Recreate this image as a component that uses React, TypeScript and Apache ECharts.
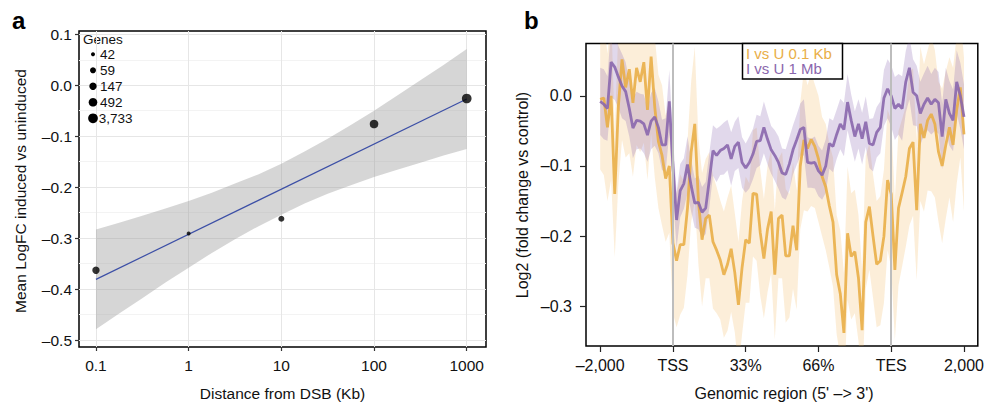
import React, { useEffect, useRef } from 'react';
import * as echarts from 'echarts';

// ---------- Panel a data ----------
const distanceKb = [0.1, 1, 10, 100, 1000];
const meanLogFC = [-0.363, -0.291, -0.262, -0.076, -0.026];
const geneCounts = [147, 42, 59, 492, 3733];
const legendGenes = [42, 59, 147, 492, 3733];
const legendGeneLabels = ['42', '59', '147', '492', '3,733'];
const fitX = [0.1, 1000];
const fitY = [-0.381, -0.027];
const bandX = [0.1, 0.178, 0.316, 0.562, 1, 1.78, 3.16, 5.62, 10, 17.8, 31.6, 56.2, 100, 178, 316, 562, 1000];
const bandUpper = [-0.283, -0.27, -0.256, -0.242, -0.227, -0.211, -0.193, -0.175, -0.154, -0.13, -0.105, -0.078, -0.05, -0.02, 0.01, 0.04, 0.071];
const bandLower = [-0.479, -0.448, -0.418, -0.387, -0.358, -0.329, -0.302, -0.277, -0.254, -0.232, -0.213, -0.196, -0.18, -0.166, -0.152, -0.138, -0.125];
const xTicksA = [0.1, 1, 10, 100, 1000];
const yTicksA = [-0.5, -0.4, -0.3, -0.2, -0.1, 0, 0.1];
const yMinorA = [-0.45, -0.35, -0.25, -0.15, -0.05, 0.05];

// ---------- Panel b data ----------
const regionTickPos = [0, 20, 40, 60, 80, 100];
const regionTickLabels = ['\u20132,000', 'TSS', '33%', '66%', 'TES', '2,000'];
const yTicksB = [-0.3, -0.2, -0.1, 0];
const guideBins = [20, 80];
const lfc01Kb = [
  -0.005, -0.003, -0.045, 0.0, -0.14, -0.015, 0.052, 0.012, 0.038, -0.01,
  0.04, 0.02, 0.048, -0.02, 0.056, -0.016, -0.065, -0.085, -0.118, -0.1,
  -0.21, -0.235, -0.212, -0.212, -0.16, -0.08, -0.04, -0.15, -0.205, -0.175,
  -0.17, -0.208, -0.22, -0.234, -0.255, -0.24, -0.218, -0.252, -0.298, -0.245,
  -0.205, -0.21, -0.139, -0.14, -0.195, -0.232, -0.19, -0.165, -0.255, -0.175,
  -0.17, -0.228, -0.228, -0.185, -0.22, -0.1, -0.063, -0.075, -0.062, -0.072,
  -0.09, -0.115, -0.13, -0.157, -0.18, -0.255, -0.282, -0.338, -0.196, -0.229,
  -0.222, -0.26, -0.334, -0.18, -0.158, -0.2, -0.24, -0.235, -0.2, -0.12,
  -0.14, -0.248, -0.16, -0.138, -0.115, -0.075, -0.066, -0.163, -0.04, -0.06,
  -0.035, -0.026, -0.04, -0.08, -0.1, -0.07, -0.045, -0.07, -0.02, 0.012,
  -0.055,
];
const lfc1Mb = [
  -0.008, -0.012, -0.018, 0.048, 0.041, 0.027, 0.014, 0.006, -0.018, -0.046,
  -0.035, -0.036, -0.04, -0.056, -0.036, -0.03, -0.045, -0.07, -0.07, -0.008,
  -0.1, -0.177, -0.135, -0.125, -0.098, -0.128, -0.153, -0.152, -0.166, -0.16,
  -0.12, -0.078, -0.085, -0.078, -0.075, -0.07, -0.09, -0.072, -0.066, -0.095,
  -0.103, -0.095, -0.083, -0.065, -0.064, -0.045, -0.062, -0.077, -0.085, -0.095,
  -0.11, -0.112, -0.097, -0.077, -0.063, -0.048, -0.045, -0.095, -0.096, -0.095,
  -0.107, -0.113, -0.1, -0.068, -0.072, -0.055, -0.04, -0.048, -0.009, -0.035,
  -0.058, -0.04, -0.061, -0.037, -0.068, -0.07, -0.052, -0.045, -0.003, 0.01,
  0.0, -0.018, -0.012, -0.018, 0.02, 0.04, 0.005, 0.0, -0.025, -0.012,
  -0.003, -0.012, -0.005, -0.01, -0.058, -0.005, -0.025, -0.035, 0.02, 0.0,
  -0.03,
];
const se01Kb = [
  0.1, 0.11, 0.105, 0.12, 0.09, 0.11, 0.115, 0.1, 0.12, 0.105, 0.11, 0.1, 0.115, 0.1, 0.11, 0.1, 0.095, 0.1, 0.09, 0.095, 0.1,
  0.095, 0.1, 0.09, 0.095, 0.1, 0.11, 0.09, 0.095, 0.085, 0.09, 0.095, 0.09, 0.085, 0.09, 0.095, 0.09, 0.085, 0.09, 0.095, 0.09,
  0.085, 0.09, 0.095, 0.09, 0.085, 0.09, 0.088, 0.092, 0.085, 0.09, 0.095, 0.088, 0.09, 0.085, 0.09, 0.1, 0.09, 0.095, 0.088, 0.09,
  0.085, 0.09, 0.088, 0.092, 0.085, 0.09, 0.085, 0.095, 0.09, 0.088, 0.09, 0.085, 0.095, 0.09, 0.088, 0.09, 0.092, 0.095, 0.1, 0.105,
  0.1, 0.11, 0.105, 0.1, 0.11, 0.105, 0.1, 0.11, 0.105, 0.1, 0.11, 0.105, 0.1, 0.11, 0.105, 0.1, 0.11, 0.105, 0.1, 0.11,
];
const se1Mb = [
  0.048, 0.05, 0.046, 0.05, 0.047, 0.044, 0.046, 0.042, 0.04, 0.043, 0.041, 0.039, 0.042, 0.038, 0.04, 0.041, 0.037, 0.036, 0.038, 0.045, 0.042,
  0.04, 0.038, 0.036, 0.04, 0.037, 0.035, 0.038, 0.036, 0.037, 0.039, 0.036, 0.038, 0.035, 0.037, 0.036, 0.038, 0.035, 0.037, 0.036, 0.035,
  0.037, 0.036, 0.038, 0.035, 0.037, 0.036, 0.034, 0.036, 0.037, 0.035, 0.036, 0.038, 0.035, 0.036, 0.037, 0.04, 0.036, 0.035, 0.037, 0.036,
  0.035, 0.038, 0.036, 0.037, 0.035, 0.036, 0.038, 0.04, 0.037, 0.036, 0.035, 0.037, 0.036, 0.035, 0.038, 0.036, 0.037, 0.04, 0.042, 0.044,
  0.045, 0.043, 0.046, 0.044, 0.045, 0.047, 0.043, 0.045, 0.044, 0.046, 0.043, 0.045, 0.044, 0.047, 0.045, 0.046, 0.044, 0.045, 0.047, 0.046,
];

// ---------- styling ----------
const FONT = "'Liberation Sans', Arial, Helvetica, sans-serif";
const ORANGE = '#E9AE47';
const PURPLE = '#8A67AD';
const SIZE_BY_COUNT: Record<number, number> = { 42: 4, 59: 6, 147: 7.4, 492: 8.6, 3733: 9.7 };

const fmtSigned = (v: number) => {
  if (Math.abs(v) < 1e-9) return '0.0';
  return (v < 0 ? '\u2013' : '') + Math.abs(v).toFixed(1);
};
const fmtKb = (v: number) => {
  const r = Math.round(v * 1000) / 1000;
  return String(r);
};

function bandSeries(xs: number[], lo: number[], hi: number[], fill: string, xAxisIndex: number, yAxisIndex: number, z: number) {
  const data = xs.map((x, i) => [x, lo[i], hi[i]]);
  return {
    type: 'custom',
    xAxisIndex,
    yAxisIndex,
    clip: true,
    silent: true,
    z,
    data,
    encode: { x: 0, y: [1, 2] },
    renderItem: (params: any, api: any) => {
      if (params.dataIndex !== 0) return null;
      const top = data.map((d) => api.coord([d[0], d[2]]));
      const bot = data.map((d) => api.coord([d[0], d[1]])).reverse();
      return {
        type: 'polygon',
        shape: { points: top.concat(bot) },
        style: { fill, stroke: null },
      };
    },
  };
}

export default function App() {
  const ref = useRef<HTMLDivElement>(null);
  useEffect(() => {
    if (!ref.current) return;
    const chart = echarts.init(ref.current, null, { renderer: 'svg' });
    const bins = lfc01Kb.map((_, i) => i);
    const lo01 = lfc01Kb.map((v, i) => v - se01Kb[i]);
    const hi01 = lfc01Kb.map((v, i) => v + se01Kb[i]);
    const lo1M = lfc1Mb.map((v, i) => v - se1Mb[i]);
    const hi1M = lfc1Mb.map((v, i) => v + se1Mb[i]);

    const tickLabelStyle = { color: '#111', fontFamily: FONT };

    const graphic: any[] = [
      { type: 'text', x: 12, y: 20, style: { text: 'a', font: `bold 24px ${FONT}`, fill: '#000', textAlign: 'left', textVerticalAlign: 'middle' } },
      { type: 'text', x: 524, y: 20, style: { text: 'b', font: `bold 24px ${FONT}`, fill: '#000', textAlign: 'left', textVerticalAlign: 'middle' } },
      { type: 'text', x: 282.5, y: 393.5, style: { text: 'Distance from DSB (Kb)', font: `15.5px ${FONT}`, fill: '#111', textAlign: 'center', textVerticalAlign: 'middle' } },
      { type: 'text', x: 20.5, y: 191, rotation: Math.PI / 2, style: { text: 'Mean LogFC induced vs uninduced', font: `15.5px ${FONT}`, fill: '#111', textAlign: 'center', textVerticalAlign: 'middle' } },
      { type: 'text', x: 784, y: 393, style: { text: "Genomic region (5' \u2013> 3')", font: `16px ${FONT}`, fill: '#111', textAlign: 'center', textVerticalAlign: 'middle' } },
      { type: 'text', x: 522, y: 195, rotation: Math.PI / 2, style: { text: 'Log2 (fold change vs control)', font: `16px ${FONT}`, fill: '#111', textAlign: 'center', textVerticalAlign: 'middle' } },
      // legend a
      { type: 'text', x: 83, y: 39.5, style: { text: 'Genes', font: `13.5px ${FONT}`, fill: '#111', textAlign: 'left', textVerticalAlign: 'middle' } },
      // legend b
      { type: 'rect', shape: { x: 742.5, y: 43.5, width: 100, height: 35.5 }, style: { fill: '#fff', stroke: '#000', lineWidth: 1.5 }, z: 10 },
      { type: 'text', x: 746, y: 53, z: 11, style: { text: 'I vs U 0.1 Kb', font: `15px ${FONT}`, fill: ORANGE, textAlign: 'left', textVerticalAlign: 'middle' } },
      { type: 'text', x: 746, y: 68.5, z: 11, style: { text: 'I vs U 1 Mb', font: `15px ${FONT}`, fill: PURPLE, textAlign: 'left', textVerticalAlign: 'middle' } },
    ];
    legendGenes.forEach((g, i) => {
      const cy = 54.3 + i * 16;
      graphic.push({ type: 'circle', shape: { cx: 93, cy, r: SIZE_BY_COUNT[g] / 2 }, style: { fill: '#000' }, z: 5 });
      graphic.push({ type: 'text', x: i === 4 ? 98.7 : 100, y: cy, z: 5, style: { text: legendGeneLabels[i], font: `13.5px ${FONT}`, fill: '#111', textAlign: 'left', textVerticalAlign: 'middle' } });
    });

    const option: any = {
      animation: false,
      backgroundColor: '#fff',
      textStyle: { fontFamily: FONT },
      graphic,
      grid: [
        { left: 79, top: 31, width: 407, height: 316, show: true, borderColor: '#000', borderWidth: 1.5, backgroundColor: 'transparent' },
        { left: 586, top: 43.5, width: 396, height: 302.5, show: true, borderColor: '#000', borderWidth: 1.5, backgroundColor: 'transparent' },
      ],
      xAxis: [
        {
          type: 'log', logBase: 10, gridIndex: 0, min: 0.06561, max: 1614,
          axisLine: { show: false, onZero: false },
          axisTick: { show: true, length: 4, customValues: xTicksA, lineStyle: { color: '#333', width: 1.2 } },
          axisLabel: { customValues: xTicksA, formatter: (v: number) => fmtKb(v), fontSize: 15.5, margin: 10, ...tickLabelStyle },
          splitLine: { show: true, lineStyle: { color: '#e6e6e6', width: 1 } },
        },
        {
          type: 'value', gridIndex: 1, min: -3.9, max: 103.8,
          axisLine: { show: false, onZero: false },
          axisTick: { show: true, length: 6, customValues: regionTickPos, lineStyle: { color: '#222', width: 1.2 } },
          axisLabel: { customValues: regionTickPos, formatter: (v: number) => regionTickLabels[regionTickPos.indexOf(Math.round(v))] ?? '', fontSize: 16, margin: 11, ...tickLabelStyle },
          splitLine: { show: false },
        },
      ],
      yAxis: [
        {
          type: 'value', gridIndex: 0, min: -0.5137, max: 0.1065,
          axisLine: { show: false, onZero: false },
          axisTick: { show: true, length: 4, customValues: yTicksA, lineStyle: { color: '#333', width: 1.2 } },
          axisLabel: { customValues: yTicksA, formatter: fmtSigned, fontSize: 15.5, margin: 7, ...tickLabelStyle },
          splitLine: { show: true, lineStyle: { color: '#e6e6e6', width: 1 } },
        },
        {
          type: 'value', gridIndex: 0, min: -0.5137, max: 0.1065,
          axisLine: { show: false, onZero: false },
          axisTick: { show: false, customValues: yMinorA },
          axisLabel: { show: false, customValues: yMinorA },
          splitLine: { show: true, lineStyle: { color: '#f3f3f3', width: 1 } },
        },
        {
          type: 'value', gridIndex: 1, min: -0.3566, max: 0.0746,
          axisLine: { show: false, onZero: false },
          axisTick: { show: true, length: 6, customValues: yTicksB, lineStyle: { color: '#222', width: 1.2 } },
          axisLabel: { customValues: yTicksB, formatter: fmtSigned, fontSize: 16, margin: 14, ...tickLabelStyle },
          splitLine: { show: false },
        },
      ],
      series: [
        // panel a
        bandSeries(bandX, bandLower, bandUpper, 'rgba(153,153,153,0.4)', 0, 0, 2),
        {
          type: 'line', xAxisIndex: 0, yAxisIndex: 0, z: 3, silent: true,
          data: fitX.map((x, i) => [x, fitY[i]]),
          showSymbol: false, symbol: 'none',
          lineStyle: { color: '#3C4FA6', width: 1.2 },
        },
        {
          type: 'scatter', xAxisIndex: 0, yAxisIndex: 0, z: 4, silent: true,
          data: distanceKb.map((x, i) => [x, meanLogFC[i]]),
          symbol: 'circle',
          symbolSize: (_v: any, p: any) => SIZE_BY_COUNT[geneCounts[p.dataIndex]],
          itemStyle: { color: '#000' },
        },
        // panel b
        bandSeries(bins, lo01, hi01, 'rgba(242,178,80,0.22)', 1, 2, 2),
        bandSeries(bins, lo1M, hi1M, 'rgba(140,105,178,0.26)', 1, 2, 2),
        {
          type: 'line', xAxisIndex: 1, yAxisIndex: 2, z: 3, silent: true,
          data: [[guideBins[0], 0]], showSymbol: false, symbol: 'none',
          lineStyle: { opacity: 0 },
          markLine: {
            silent: true, symbol: ['none', 'none'], label: { show: false },
            lineStyle: { color: '#bdbdbd', width: 2, type: 'solid' },
            data: guideBins.map((b) => ({ xAxis: b })),
          },
        },
        {
          type: 'line', xAxisIndex: 1, yAxisIndex: 2, z: 4, silent: true,
          data: bins.map((b, i) => [b, lfc01Kb[i]]), showSymbol: false, symbol: 'none',
          lineStyle: { color: ORANGE, width: 2.8, opacity: 0.9 },
        },
        {
          type: 'line', xAxisIndex: 1, yAxisIndex: 2, z: 4, silent: true,
          data: bins.map((b, i) => [b, lfc1Mb[i]]), showSymbol: false, symbol: 'none',
          lineStyle: { color: PURPLE, width: 2.8, opacity: 0.9 },
        },
      ],
    };
    chart.setOption(option);
    return () => chart.dispose();
  }, []);
  return <div ref={ref} style={{ position: 'fixed', left: 0, top: 0, width: 987, height: 403 }} />;
}
